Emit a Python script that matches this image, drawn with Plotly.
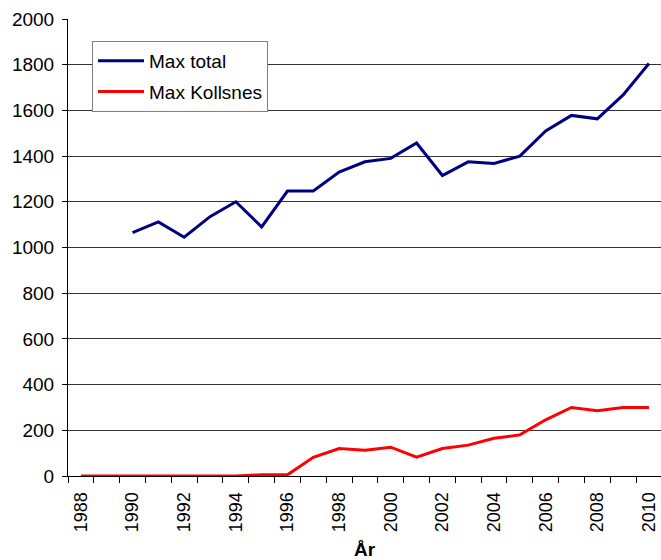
import plotly.graph_objects as go

years = list(range(1988, 2011))
max_total_years = list(range(1990, 2011))
max_total = [1065, 1112, 1045, 1135, 1200, 1090, 1247, 1247, 1330, 1375, 1390,
             1457, 1315, 1375, 1368, 1400, 1510, 1578, 1563, 1668, 1805]
max_kollsnes = [0, 0, 0, 0, 0, 0, 0, 5, 5, 82, 120, 113, 126, 82, 120, 135,
                165, 180, 246, 300, 286, 300, 300]
tick_years = [y for y in years if y % 2 == 0]
tick_labels = [str(y) for y in tick_years]

font_family = "Liberation Sans, Arial, sans-serif"

fig = go.Figure()
fig.add_trace(go.Scatter(x=max_total_years, y=max_total, mode="lines", name="Max total",
                         line=dict(color="#000080", width=3), legendgroup="a"))
fig.add_trace(go.Scatter(x=years, y=max_kollsnes, mode="lines", name="Max Kollsnes",
                         line=dict(color="#FF0000", width=3), legendgroup="b"))

boundaries = [y - 0.5 for y in years] + [years[-1] + 0.5]

fig.update_layout(
    width=661, height=560,
    margin=dict(l=68, r=0, t=19, b=84, autoexpand=False),
    paper_bgcolor="white", plot_bgcolor="white",
    font=dict(family=font_family, size=19, color="black"),
    showlegend=True,
    legend=dict(x=0.0405, y=0.952, xanchor="left", yanchor="top",
                bgcolor="white", bordercolor="#808080", borderwidth=1,
                font=dict(size=19), tracegroupgap=3, itemwidth=46),
    xaxis=dict(range=[years[0] - 0.5, years[0] - 0.5 + 593 / 25.82],
               automargin=False, ticklabeloverflow="allow",
               tickmode="array", tickvals=tick_years, ticktext=tick_labels,
               tickangle=-90, ticks="", showgrid=False, zeroline=False,
               tickfont=dict(size=18), ticklabelstandoff=8,
               showline=True, linecolor="black", linewidth=1,
               minor=dict(tickmode="array", tickvals=boundaries, ticks="outside",
                          ticklen=6, tickcolor="black", showgrid=False),
               title=dict(text="<b>År</b>", standoff=13, font=dict(size=19))),
    yaxis=dict(range=[0, 2000], dtick=200, tick0=0, ticks="outside", ticklen=5,
               automargin=False, tickfont=dict(size=19), ticklabelstandoff=4,
               tickcolor="black", showline=True, linecolor="black", linewidth=1,
               showgrid=True, gridcolor="#333333", gridwidth=1, zeroline=False),
)

fig.write_html("out.html", config={"displayModeBar": False},
               post_script="document.body.style.margin='0';document.body.style.overflow='hidden';")
